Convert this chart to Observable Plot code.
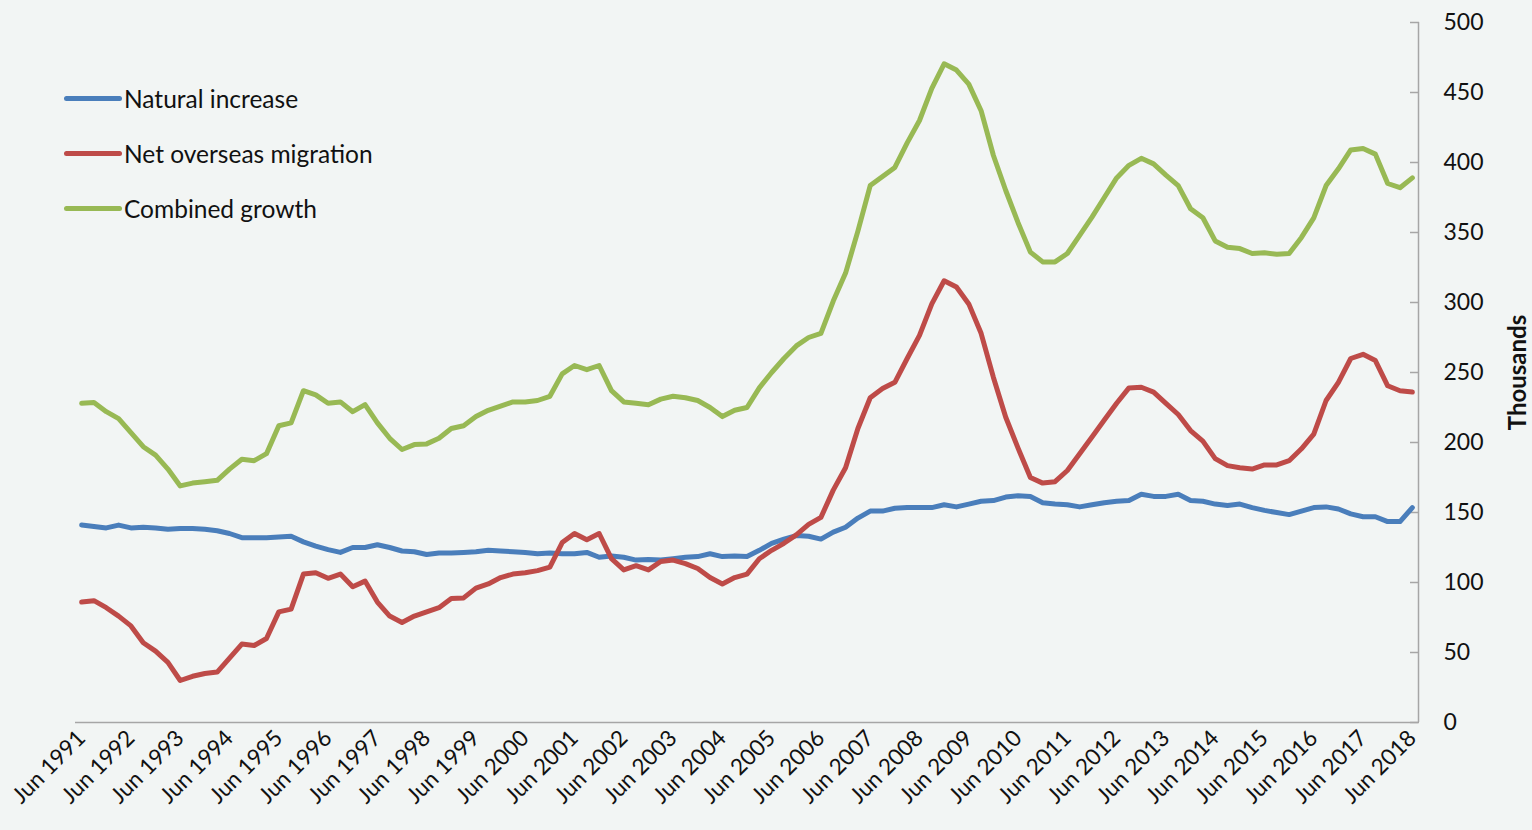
<!DOCTYPE html>
<html>
<head>
<meta charset="utf-8">
<script src="https://cdn.jsdelivr.net/npm/d3@7"></script>
<script src="https://cdn.jsdelivr.net/npm/@observablehq/plot@0.6"></script>
<style>
html, body { margin: 0; padding: 0; background: #f2f5f4; }
#wrap { position: relative; width: 1532px; height: 830px; font-family: Lato, "Open Sans", sans-serif; }
#legend { position: absolute; left: 64px; top: 0; }
.item { position: absolute; left: 0; display: flex; align-items: center; white-space: nowrap; font-size: 24.5px; color: #111; height: 30px; }
.sw { width: 58px; height: 5px; border-radius: 3px; margin-right: 2px; }
</style>
</head>
<body>
<div id="wrap"><div id="legend"></div></div>
<script>
const tickLabels = ["Jun 1991","Jun 1992","Jun 1993","Jun 1994","Jun 1995","Jun 1996","Jun 1997","Jun 1998","Jun 1999","Jun 2000","Jun 2001","Jun 2002","Jun 2003","Jun 2004","Jun 2005","Jun 2006","Jun 2007","Jun 2008","Jun 2009","Jun 2010","Jun 2011","Jun 2012","Jun 2013","Jun 2014","Jun 2015","Jun 2016","Jun 2017","Jun 2018"];

const seriesNames = ["Natural increase", "Net overseas migration", "Combined growth"];
const seriesColors = ["#4a7ebb", "#be4b48", "#98b954"];

const naturalIncrease = [
  141,140,139,141,139,139.5,139,138,138.5,138.5,
  138,137,135,132,132,132,132.5,133,129,126,
  123.5,121.5,125,125,127,125,122.5,122,120,121,
  121,121.5,122,123,122.5,122,121.5,120.5,121,120.5,
  120.5,121.5,118,119,118,116,116.5,116,117,118,
  118.5,120.5,118.5,119,118.5,123,128,131,133.5,133,
  131,136,139.5,146,151,151,153,153.5,153.5,153.5,
  155.5,154,156,158,158.5,161,162,161.5,157,156,
  155.5,154,155.5,157,158,158.5,163,161.5,161.5,163,
  158.5,158,156,155,156,153.5,151.5,150,148.5,151,
  153.5,154,152.5,149,147,147,143.5,143.5,153.5
];

const netOverseasMigration = [
  86,87,82,76,69,57,51,43,30,33,
  35,36,46,56,55,60,79,81,106,107,
  103,106,97,101,86,76,71.5,76,79,82,
  88.5,89,96,99,103.5,106,107,108.5,111,128.5,
  135,130.5,135,117,109,112,109,115,116,113.5,
  110,103.5,99,103.5,106,117,123,128,134,141.5,
  146.5,166,182,210,232,238.5,243,260,276.5,299,
  315.5,311,299,278,246.5,218,196,175,171,172,
  180,192,204,216,228,239,239.5,236,228,220,
  208.5,201,188.5,183.5,182,181,184,184,187,195.5,
  206,230,243,260,263,258.5,240.5,237,236
];

const combinedGrowth = [
  228,228.5,222,217,207,197,191,181,169,171,
  172,173,181,188,187,192,212,214,237,234,
  228,229,222,227,214,203,195,198.5,199,203,
  210,212,218.5,223,226,229,229,230,233,249,
  255,252,255,237,229,228,227,231,233,232,
  230,225,218.5,223,225,239,250,260,269,275,
  278,301,321,351,383.5,390,396.5,414,430,453,
  470.5,466,456,437,405,380,357,336,329,329,
  335,348,361,375,389,398,403,399,391,383.5,
  367,360.5,344,339.5,338.5,335,335.5,334.5,335,346.5,
  360.5,383.5,395.5,409,410,406,385,382,389
];

const yTicks = [0,50,100,150,200,250,300,350,400,450,500];

const seriesValues = [naturalIncrease, netOverseasMigration, combinedGrowth];
const n = naturalIncrease.length;
const data = [];
seriesValues.forEach((vals, si) => vals.forEach((v, i) => data.push({i, v, series: seriesNames[si]})));

const chart = Plot.plot({
  width: 1532,
  height: 830,
  marginLeft: 75,
  marginRight: 114,
  marginTop: 22,
  marginBottom: 108,
  style: {background: "transparent", fontFamily: "Lato, 'Open Sans', sans-serif", color: "#111", overflow: "visible"},
  x: {domain: [-0.5, n - 0.5], axis: null},
  y: {domain: [0, 500], axis: null},
  color: {domain: seriesNames, range: seriesColors},
  marks: [
    Plot.ruleY([0], {stroke: "#a6a6a6", strokeWidth: 1.5}),
    Plot.ruleX([n - 0.5], {stroke: "#a6a6a6", strokeWidth: 1.5}),
    Plot.axisY({anchor: "right", ticks: yTicks, tickSize: -9, tickFormat: () => "", label: null, stroke: "#a6a6a6", strokeWidth: 1.5}),
    Plot.axisY({anchor: "right", ticks: yTicks, tickSize: 0, tickPadding: 25, label: null, fontSize: 23, textAnchor: "start"}),
    Plot.axisX({ticks: d3.range(0, n, 4), tickFormat: i => tickLabels[i / 4], tickRotate: -45, tickSize: 0, tickPadding: 12, label: null, fontSize: 22.5}),
    Plot.text(["Thousands"], {frameAnchor: "right", dx: 100, rotate: -90, fontSize: 24, fontWeight: "bold", textAnchor: "middle"}),
    Plot.line(data, {x: "i", y: "v", z: "series", stroke: "series", strokeWidth: 5, strokeLinejoin: "round", strokeLinecap: "round"})
  ]
});
document.getElementById("wrap").appendChild(chart);

const legend = document.getElementById("legend");
const legendTops = [83, 138, 193];
seriesNames.forEach((name, k) => {
  const item = document.createElement("div");
  item.className = "item";
  item.style.top = legendTops[k] + "px";
  const sw = document.createElement("span");
  sw.className = "sw";
  sw.style.background = seriesColors[k];
  const t = document.createElement("span");
  t.textContent = name;
  item.appendChild(sw);
  item.appendChild(t);
  legend.appendChild(item);
});
</script>
</body>
</html>
